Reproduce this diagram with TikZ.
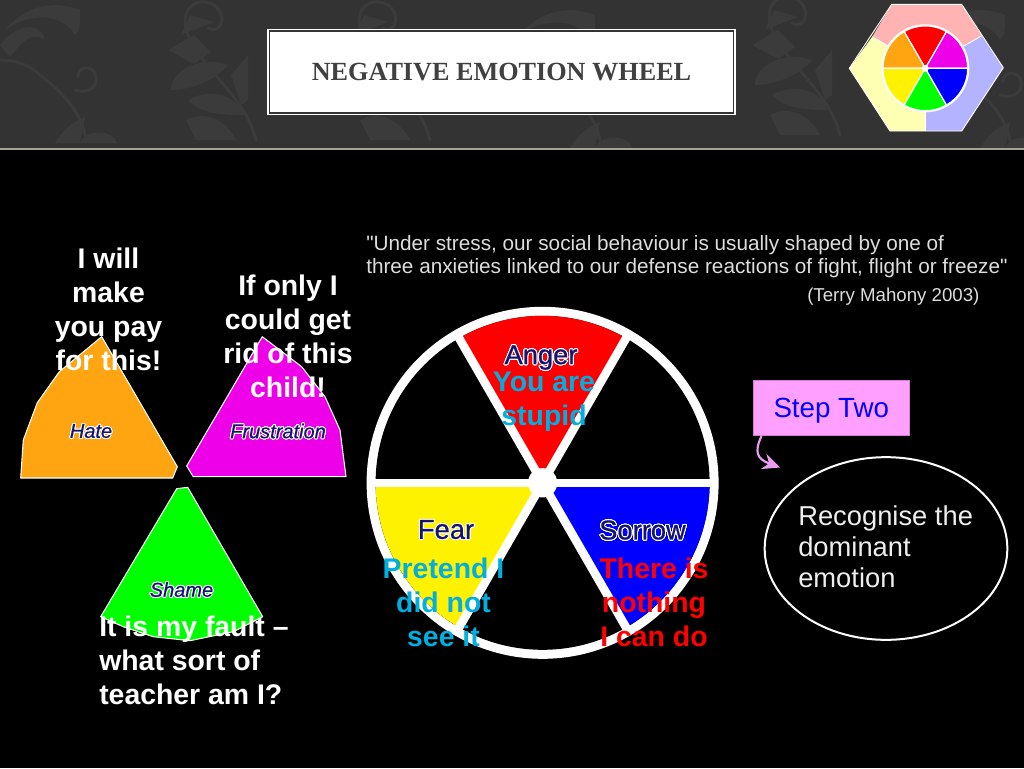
\documentclass[tikz,border=0pt]{standalone}
\usepackage{fontspec}
\usepackage[copies]{contour}
\setmainfont{Liberation Sans}
\newfontfamily\titlefont{Liberation Serif}
\newfontfamily\plainsans{Liberation Sans}
\newfontface\wheelfont{Liberation Sans}[FakeBold=0.7]
\newfontface\wheelitalic{Liberation Sans Italic}[FakeBold=0.6]
\usetikzlibrary{arrows.meta,calc,shapes.geometric}
\definecolor{bandgray}{HTML}{333333}
\definecolor{leafgray}{HTML}{3B3B3B}
\definecolor{rulebeige}{HTML}{A8A38C}
\definecolor{titleink}{HTML}{404040}
\definecolor{hatecol}{HTML}{FFA511}
\definecolor{frustcol}{HTML}{EE00E8}
\definecolor{cyanink}{HTML}{00AEDF}
\definecolor{navyink}{HTML}{14146E}
\definecolor{stepfill}{HTML}{FF9FFF}
\definecolor{steparrow}{HTML}{E99CF2}
\definecolor{quoteink}{HTML}{DDDDDD}
\definecolor{recink}{HTML}{EEEEEE}
\definecolor{pinkhex}{HTML}{FFB3B3}
\definecolor{yellowhex}{HTML}{FFFFB3}
\definecolor{bluehex}{HTML}{B3B3FF}
\contourlength{0.7pt}
\contournumber{24}
\newcommand{\navyout}[1]{\contour{white}{\textcolor{navyink}{#1}}}
\tikzset{
  bigtext/.style={font=\bfseries\fontsize{21.3}{25.5}\selectfont,inner sep=0pt,align=center},
  emotionshape/.style={draw=white,line width=0.8pt,line join=round},
  wheelline/.style={draw=white,line width=6.4pt},
  logosector/.style={draw=white,line width=0.9pt,line join=round},
  logopiece/.style={draw=white,line width=0.7pt,line join=round},
  leafshape/.style={fill=leafgray,draw=none},
  scroll/.style={draw=leafgray,line width=2.2pt,line cap=round},
  pics/damask/.style={code={
    \draw[scroll] (0,0) .. controls (-12,-45) and (-45,-60) .. (-68,-105)
       .. controls (-78,-130) and (-60,-145) .. (-42,-135)
       .. controls (-28,-125) and (-35,-105) .. (-48,-112);
    \fill[leafshape] (-88,-90) -- (-62,-105) -- (-45,-88) -- (-62,-76) -- cycle;
    \fill[leafshape] (-85,-50) .. controls (-85,-70) and (-55,-85) .. (-28,-75) .. controls (-40,-60) and (-65,-50) .. (-85,-50) -- cycle;
    \fill[leafshape] (-68,-40) .. controls (-50,-50) and (-25,-50) .. (-10,-25) .. controls (-30,-25) and (-55,-25) .. (-68,-40) -- cycle;
    \fill[leafshape] (-25,-65) -- (-8,-85) -- (-8,-40) -- (-15,-35) -- cycle;
    \fill[leafshape] (-70,-20) .. controls (-50,-30) and (-30,-20) .. (-20,0) -- (-60,0) -- cycle;
    \fill[leafshape] (-42,-118) -- (-66,-125) -- (-75,-105) -- cycle;
  }},
  pics/damaskb/.style={code={
    \draw[scroll] (0,0) .. controls (-5,-25) and (-25,-45) .. (-45,-60) .. controls (-55,-70) and (-70,-75) .. (-85,-75);
    \draw[scroll] (-10,-45) .. controls (5,-40) and (15,-50) .. (10,-62) .. controls (5,-70) and (-8,-68) .. (-7,-58);
    \fill[leafshape] (-80,-105) .. controls (-60,-130) and (-30,-135) .. (-5,-125) .. controls (-5,-110) and (-5,-105) .. (-10,-100) .. controls (-25,-125) and (-60,-120) .. (-80,-105) -- cycle;
    \fill[leafshape] (-85,-90) .. controls (-70,-110) and (-45,-115) .. (-40,-95) .. controls (-55,-105) and (-65,-90) .. (-75,-78) -- cycle;
    \fill[leafshape] (-30,8) .. controls (-20,-8) and (-10,-14) .. (0,-18) -- (-5,8) -- cycle;
    \fill[leafshape] (-5,8) .. controls (0,-6) and (28,-6) .. (32,8) -- cycle;
  }}
}
\begin{document}
\begin{tikzpicture}[x=0.75pt,y=-0.75pt]
\useasboundingbox (0,0) rectangle (1024,768);
\fill[black] (0,0) rectangle (1024,768);
% header band
\fill[bandgray] (0,0) rectangle (1024,148);
\begin{scope}
\clip (0,0) rectangle (1024,148);
\pic at (256,140) {damask};
\pic at (85,135) {damaskb};
\pic at (600,140) {damaskb};
\pic at (430,140) {damask};
\pic at (840,135) {damask};
\pic at (1010,140) {damaskb};
\end{scope}
\fill[rulebeige] (0,148) rectangle (1024,150);
% title box
\node[draw=white,line width=1.3pt,fill=bandgray,minimum width=350.5pt,minimum height=63.7pt,inner sep=0pt] (titleouter) at (501.5,72) {};
\node[fill=white,minimum width=347pt,minimum height=60.5pt,inner sep=0pt] (titlebox) at (501.5,72) {};
\node[font=\titlefont\bfseries\fontsize{19.65}{23}\selectfont,text=titleink,inner sep=0pt] (titletext) at (501.5,72) {NEGATIVE EMOTION WHEEL};
% logo
\coordinate (logoc) at (925.3,68.3);
\fill[pinkhex] (891.7,4.3) -- (961.7,4.3) -- (981.7,35.7) -- (logoc) -- (872.3,36.7) -- cycle;
\fill[yellowhex] (872.3,36.7) -- (logoc) -- (925.3,131) -- (890,131) -- (849.3,68.3) -- cycle;
\fill[bluehex] (logoc) -- (981.7,35.7) -- (1003.3,67.7) -- (961.7,131) -- (925.3,131) -- cycle;
\draw[logopiece] (872.3,36.7) -- (logoc) (981.7,35.7) -- (logoc) (925.3,131) -- (logoc);
\draw[logopiece] (891.7,4.3) -- (961.7,4.3) -- (1003.3,67.7) -- (961.7,131) -- (890,131) -- (849.3,68.3) -- cycle;
\fill[white] (logoc) circle[radius=33pt];
\foreach \a/\c in {60/red,0/frustcol,120/hatecol,180/yellow,240/green,300/blue}{
  \path[logosector,fill=\c] (logoc) -- ++(\a:31.8pt) arc[start angle=\a,delta angle=60,radius=31.8pt] -- cycle;
}
\fill[white] (logoc) circle[radius=2.6pt];
% emotion shapes
\path[emotionshape,fill=hatecol] (20.7,478) -- (23.3,440) -- (37.3,402.7) -- (59.3,371.7) -- (101.7,336.7) -- (177.3,466.7) -- (172.7,478) -- cycle;
\path[emotionshape,fill=frustcol] (186.7,466) -- (193.3,476.7) -- (346,476.7) -- (340,430) -- (325,396.7) -- (301.7,366.7) -- (262.3,336.7) -- cycle;
\path[emotionshape,fill=green] (176.7,488.7) -- (187.7,487.3) -- (262.7,616.7) -- (233.3,631.7) -- (190,640.7) -- (153.3,636.7) -- (123.3,626.7) -- (100.7,616.7) -- cycle;
\node[font=\wheelitalic\fontsize{15}{18}\selectfont,inner sep=0pt] (hate) at (91,431.5) {\navyout{Hate}};
\node[font=\wheelitalic\fontsize{15}{18}\selectfont,inner sep=0pt] (frustration) at (278,431.5) {\navyout{Frustration}};
\node[font=\wheelitalic\fontsize{15}{18}\selectfont,inner sep=0pt] (shame) at (181.5,590) {\navyout{Shame}};
% wheel
\coordinate (wheelc) at (542.6,482.8);
\fill[white] (wheelc) circle[radius=132pt];
\fill[black] (wheelc) circle[radius=125.25pt];
\path[fill=red] (wheelc) -- ++(60:125.25pt) arc[start angle=60,end angle=120,radius=125.25pt] -- cycle;
\path[fill=yellow] (wheelc) -- ++(180:125.25pt) arc[start angle=180,end angle=240,radius=125.25pt] -- cycle;
\path[fill=blue] (wheelc) -- ++(300:125.25pt) arc[start angle=300,end angle=360,radius=125.25pt] -- cycle;
\foreach \a in {0,60,120}{
  \draw[wheelline] ($(wheelc)+(\a:128pt)$) -- ($(wheelc)+(\a+180:128pt)$);
}
\fill[white] (wheelc) circle[radius=11pt];
\node[font=\wheelfont\fontsize{20.5}{24}\selectfont,inner sep=0pt] (anger) at (541,358) {\navyout{Anger}};
\node[font=\wheelfont\fontsize{20.5}{24}\selectfont,inner sep=0pt] (fear) at (446,530) {\navyout{Fear}};
\node[font=\wheelfont\fontsize{20.5}{24}\selectfont,inner sep=0pt] (sorrow) at (642.5,530.5) {\navyout{Sorrow}};
% spoken texts
\node[bigtext,text=white] (t1) at (108.5,309) {I will\\make\\you pay\\for this!};
\node[bigtext,text=white] (t2) at (288,336) {If only I\\could get\\rid of this\\child!};
\node[bigtext,text=white,align=left,anchor=west] (t3) at (99,660) {It is my fault --\\what sort of\\teacher am I?};
\node[bigtext,text=cyanink] (t4) at (544,402) {You are\\stupid};
\node[bigtext,text=cyanink] (t5) at (443.5,602.5) {Pretend I\\did not\\see it};
\node[bigtext,text=red] (t6) at (654,602.5) {There is\\nothing\\I can do};
% quote
\node[anchor=west,text=quoteink,inner sep=0pt,align=left,font=\plainsans\fontsize{15.55}{17.6}\selectfont] (quote) at (366,256.5) {"Under stress, our social behaviour is usually shaped by one of\\three anxieties linked to our defense reactions of fight, flight or freeze"};
\node[anchor=west,text=quoteink,inner sep=0pt,font=\fontsize{14}{16}\selectfont] (attrib) at (807,296.5) {(Terry Mahony 2003)};
% step two
\node[fill=stepfill,draw=stepfill!80!black,line width=0.3pt,minimum width=117.5pt,minimum height=41pt,inner sep=0pt,text=blue,text height=18pt,text depth=3pt,font=\fontsize{20.8}{24}\selectfont] (stepbox) at (831.3,407.5) {Step Two};
\coordinate (steptip) at (780,467.5);
\draw[steparrow,line width=1.6pt,-{Stealth[length=13pt,width=12pt]}] (761.5,436) .. controls (754,452) and (757,459) .. (steptip);
\node[draw=white,line width=1.5pt,ellipse,minimum width=182pt,minimum height=137pt,inner sep=0pt] (recellipse) at (886,548.5) {};
\node[anchor=west,text=recink,inner sep=0pt,align=left,font=\fontsize{20.5}{23.25}\selectfont] (rectext) at (798,547) {Recognise the\\dominant\\emotion};
\end{tikzpicture}
\end{document}
